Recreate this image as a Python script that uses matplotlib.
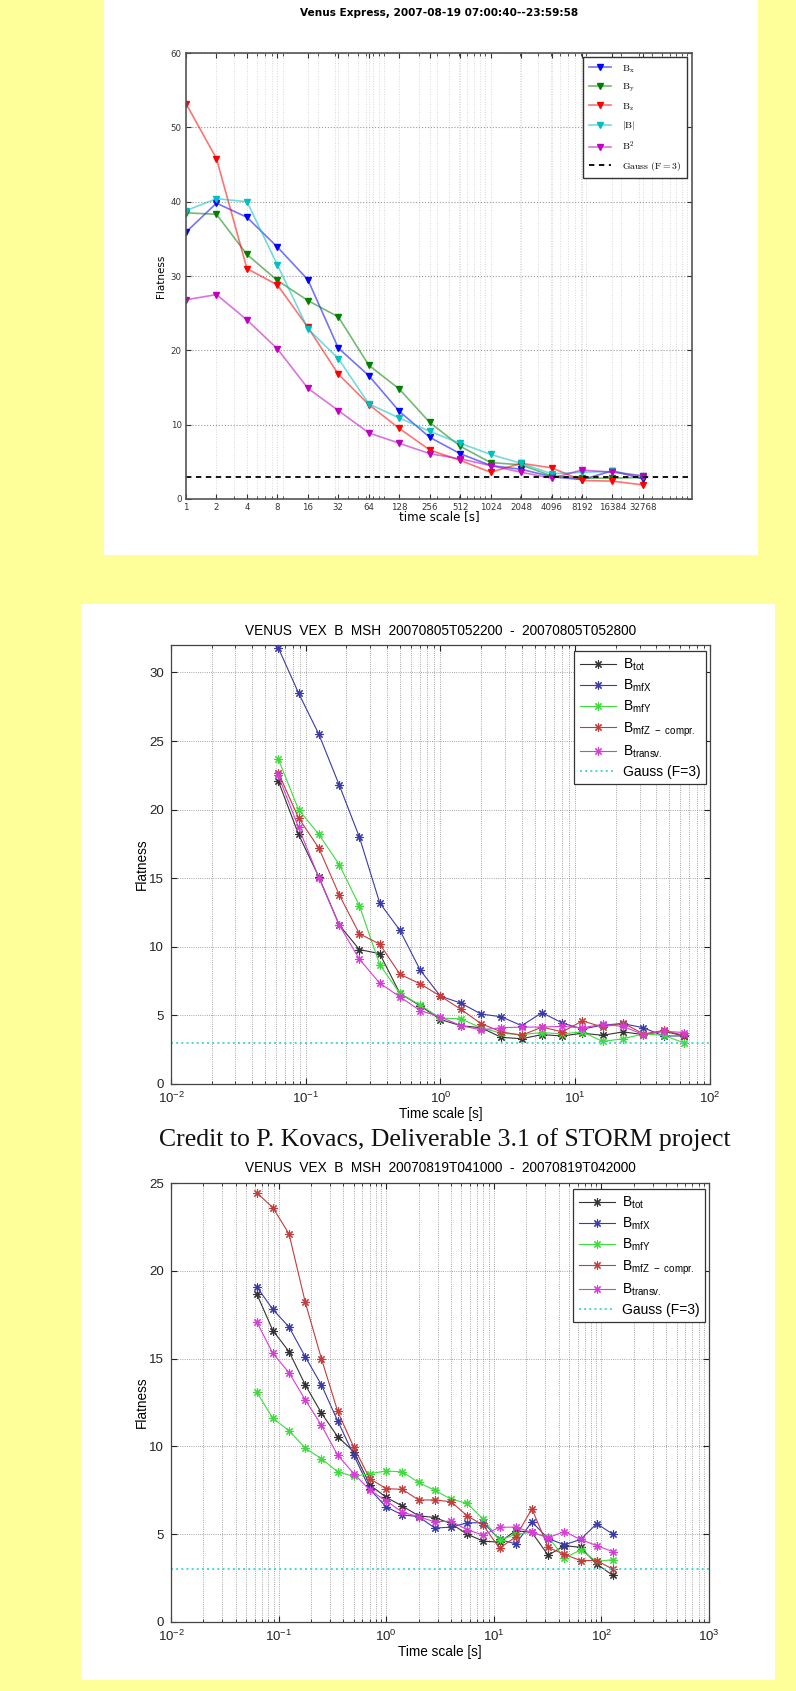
import matplotlib
matplotlib.use('Agg')
import matplotlib.pyplot as plt
from matplotlib.patches import Rectangle
from matplotlib.font_manager import FontProperties
from matplotlib.ticker import LogLocator, NullFormatter, FixedLocator

# ---- data: top panel (Venus Express, 2007-08-19) ----
top_scales = [1, 2, 4, 8, 16, 32, 64, 128, 256, 512, 1024, 2048, 4096, 8192, 16384, 32768]
top_bx = [35.9, 39.8, 37.9, 33.9, 29.5, 20.3, 16.6, 11.8, 8.3, 6.1, 4.5, 4.0, 3.0, 2.6, 3.8, 2.7]
top_by = [38.5, 38.3, 32.9, 29.4, 26.7, 24.5, 18.0, 14.8, 10.3, 7.1, 4.9, 4.6, 3.1, 2.8, 2.8, 2.9]
top_bz = [53.2, 45.8, 31.0, 28.8, 23.1, 16.8, 12.7, 9.5, 6.6, 5.2, 3.6, 4.8, 4.2, 2.5, 2.4, 1.9]
top_babs = [38.8, 40.4, 40.0, 31.5, 22.9, 18.9, 12.8, 10.9, 9.1, 7.5, 6.0, 4.8, 3.4, 3.6, 3.7, 3.1]
top_bsq = [26.8, 27.5, 24.1, 20.2, 14.9, 11.9, 8.9, 7.5, 6.1, 5.4, 4.5, 3.6, 2.8, 3.9, 3.6, 3.1]
top_labels = [r'$\mathrm{B_x}$', r'$\mathrm{B_y}$', r'$\mathrm{B_z}$', r'$\mathrm{|B|}$', r'$\mathrm{B^2}$']

# ---- data: middle panel (20070805T052200 - 20070805T052800) ----
mid_scales = [0.0625, 0.0884, 0.125, 0.177, 0.25, 0.354, 0.5, 0.707, 1, 1.414, 2,
              2.83, 4, 5.66, 8, 11.3, 16, 22.6, 32, 45.3, 64]
mid_btot = [22.1, 18.2, 15.1, 11.6, 9.8, 9.5, 6.6, 5.7, 4.7, 4.25, 4.1,
            3.4, 3.3, 3.6, 3.5, 3.7, 3.55, 3.8, 3.6, 3.85, 3.5]
mid_bx = [31.8, 28.5, 25.5, 21.8, 18.0, 13.2, 11.2, 8.3, 6.4, 5.9, 5.1,
          4.9, 4.25, 5.2, 4.45, 4.0, 4.3, 4.4, 4.1, 3.5, 3.5]
mid_by = [23.7, 20.0, 18.2, 16.0, 13.0, 8.7, 6.6, 5.75, 4.8, 4.75, 4.1,
          3.7, 3.6, 3.75, 3.65, 3.8, 3.1, 3.3, 3.65, 3.55, 3.0]
mid_bz = [22.7, 19.4, 17.2, 13.8, 10.95, 10.2, 8.0, 7.3, 6.4, 5.45, 4.4,
          3.8, 3.55, 4.15, 3.8, 4.6, 4.15, 4.45, 3.65, 3.9, 3.55]
mid_btr = [22.5, 18.7, 15.05, 11.6, 9.1, 7.35, 6.35, 5.35, 4.9, 4.25, 3.95,
           4.1, 4.15, 4.15, 4.2, 4.1, 4.35, 4.2, 3.6, 3.85, 3.75]

# ---- data: bottom panel (20070819T041000 - 20070819T042000) ----
bot_scales = [0.0625, 0.0884, 0.125, 0.177, 0.25, 0.354, 0.5, 0.707, 1, 1.414, 2,
              2.83, 4, 5.66, 8, 11.3, 16, 22.6, 32, 45.3, 64, 90.5, 128]
bot_btot = [18.7, 16.6, 15.4, 13.5, 11.9, 10.55, 9.7, 7.8, 7.1, 6.6, 6.05,
            5.95, 5.6, 5.0, 4.6, 4.55, 5.2, 5.1, 3.8, 4.35, 4.25, 3.3, 2.65]
bot_bx = [19.1, 17.8, 16.8, 15.1, 13.5, 11.45, 9.5, 7.55, 6.55, 6.1, 6.0,
          5.35, 5.4, 5.65, 5.65, 4.7, 4.45, 5.7, 4.75, 4.4, 4.7, 5.6, 5.0]
bot_by = [13.1, 11.6, 10.9, 9.9, 9.3, 8.55, 8.3, 8.45, 8.6, 8.55, 7.95,
          7.5, 7.0, 6.75, 5.85, 4.65, 5.0, 5.1, 4.85, 3.65, 4.1, 3.45, 3.55]
bot_bz = [24.45, 23.6, 22.1, 18.2, 15.0, 12.0, 9.95, 8.15, 7.6, 7.55, 6.95,
          6.95, 6.85, 6.05, 5.5, 4.2, 4.85, 6.45, 4.25, 3.85, 3.5, 3.5, 3.0]
bot_btr = [17.1, 15.3, 14.2, 12.65, 11.2, 9.5, 8.45, 7.5, 6.9, 6.25, 6.0,
           5.7, 5.75, 5.25, 4.95, 5.4, 5.4, 5.1, 4.8, 5.15, 4.7, 4.35, 4.0]

matlab_labels = [r'$\mathregular{B_{tot}}$', r'$\mathregular{B_{mfX}}$', r'$\mathregular{B_{mfY}}$',
                 r'$\mathregular{B_{mfZ\ -\ compr.}}$', r'$\mathregular{B_{transv.}}$']
matlab_colors = ['#333333', '#3a3aa8', '#3cdc3c', '#c43c3c', '#d83cd8']
gauss_level = 3

plt.rcParams['font.family'] = ['Liberation Sans', 'DejaVu Sans']

W, H = 796, 1691
fig = plt.figure(figsize=(W / 100, H / 100), dpi=100, facecolor='#ffff99')


def white_box(x0, y0, x1, y1):
    fig.add_artist(Rectangle((x0 / W, 1 - y1 / H), (x1 - x0) / W, (y1 - y0) / H,
                             transform=fig.transFigure, facecolor='white',
                             edgecolor='none', zorder=-5))


def px_axes(l, t, r, b):
    return fig.add_axes([l / W, 1 - b / H, (r - l) / W, (b - t) / H])


white_box(104, 0, 758, 555)
white_box(81, 604, 775, 1680)

# ================= top panel (python style) =================
dv = 'DejaVu Sans'
L, T, R, B = 186, 53, 692, 499
ax = px_axes(L, T, R, B)
for vals, c, lab in zip([top_bx, top_by, top_bz, top_babs, top_bsq], ['b', 'g', 'r', 'c', 'm'], top_labels):
    rgba = matplotlib.colors.to_rgba(c, 0.55)
    ax.plot(top_scales, vals, '-v', color=rgba, mfc=c, mec=c, ms=4.5, lw=1.2, label=lab)
ax.axhline(gauss_level, color='k', ls='--', lw=1.3, dashes=(3, 2.5), label=r'$\mathrm{Gauss\ (F=3)}$')
ax.set_xscale('log')
ax.set_xlim(1, 1e5)
ax.set_ylim(0, 60)
ax.xaxis.set_major_locator(FixedLocator(top_scales))
ax.set_xticklabels([str(s) for s in top_scales])
ax.xaxis.set_minor_locator(LogLocator(base=10, subs=range(2, 10)))
ax.xaxis.set_minor_formatter(NullFormatter())
ax.set_yticks(range(0, 61, 10))
ax.grid(True, which='major', axis='y', ls=':', color='#999999', lw=0.8)
ax.grid(True, which='both', axis='x', ls=':', color='#d8d8d8', lw=0.7)
ax.tick_params(which='both', direction='in', top=True, right=True, labelsize=6.2,
               colors='#333333', pad=3, labelfontfamily=dv)
ax.tick_params(which='minor', length=2)
for s in ax.spines.values():
    s.set_color('#555555')
    s.set_linewidth(1.2)
ax.set_title('Venus Express, 2007-08-19 07:00:40--23:59:58', fontsize=7.6, family=dv,
             fontweight='bold', y=(B - 13) / (B - T), va='center', pad=0)
ax.set_xlabel('time scale [s]', fontsize=8.6, family=dv)
ax.xaxis.set_label_coords(0.5, (B - 517) / (B - T))
ax.xaxis.label.set_va('center')
ax.set_ylabel('Flatness', fontsize=7.5, family=dv)
ax.yaxis.set_label_coords((161 - L) / (R - L), 0.5)
ax.yaxis.label.set_va('center')
leg = ax.legend(loc='upper right', bbox_to_anchor=(1 - 5 / (R - L), 1 - 4 / (B - T)),
                prop=FontProperties(size=7, math_fontfamily='cm'), fancybox=False,
                framealpha=1, borderaxespad=0, handlelength=2.3, labelspacing=0.7,
                borderpad=0.6, handletextpad=1.1)
leg.get_frame().set_edgecolor('#333333')
leg.get_frame().set_linewidth(1.0)

# ================= matlab style panels =================


def matlab_panel(box, xs, series, xmax, ymax, title, title_y, xlabel_y):
    L, T, R, B = box
    ax = px_axes(L, T, R, B)
    for vals, c, lab in zip(series, matlab_colors, matlab_labels):
        ax.plot(xs, vals, '-', color=c, lw=0.8, marker=(8, 2, 0), ms=6, mew=0.8, label=lab)
    ax.axhline(gauss_level, color='#44d8d8', ls=':', lw=1.4, label='Gauss (F=3)')
    ax.set_xscale('log')
    ax.set_xlim(1e-2, xmax)
    ax.set_ylim(0, ymax)
    ax.set_yticks(range(0, int(ymax) + 1, 5))
    ax.xaxis.set_minor_locator(LogLocator(base=10, subs=range(2, 10)))
    ax.xaxis.set_minor_formatter(NullFormatter())
    ax.grid(True, which='both', axis='x', ls=':', color='#888888', lw=0.6)
    ax.grid(True, which='major', axis='y', ls=':', color='#888888', lw=0.6)
    ax.tick_params(which='both', direction='in', top=True, right=True, labelsize=9.5,
                   colors='#222222', pad=5)
    ax.tick_params(which='major', length=4)
    ax.tick_params(which='minor', length=2.5)
    for s in ax.spines.values():
        s.set_color('#444444')
        s.set_linewidth(0.9)
    ax.set_title(title, fontsize=9.8, y=(B - title_y) / (B - T), va='center', pad=0)
    ax.set_xlabel('Time scale [s]', fontsize=9.8)
    ax.xaxis.set_label_coords(0.5, (B - xlabel_y) / (B - T))
    ax.xaxis.label.set_va('center')
    ax.set_ylabel('Flatness', fontsize=9.8)
    ax.yaxis.set_label_coords((142 - L) / (R - L), 0.5)
    ax.yaxis.label.set_va('center')
    leg = ax.legend(loc='upper right', bbox_to_anchor=(1 - 4 / (R - L), 1 - 6 / (B - T)),
                    fontsize=10, fancybox=False, framealpha=1, borderaxespad=0,
                    handlelength=2.6, labelspacing=0.35, borderpad=0.4, handletextpad=0.5)
    leg.get_frame().set_edgecolor('#333333')
    leg.get_frame().set_linewidth(0.9)
    return ax


matlab_panel((171, 645, 710, 1084), mid_scales, [mid_btot, mid_bx, mid_by, mid_bz, mid_btr],
             1e2, 32, 'VENUS  VEX  B  MSH  20070805T052200  -  20070805T052800', 631, 1114)
matlab_panel((171, 1183, 709, 1622), bot_scales, [bot_btot, bot_bx, bot_by, bot_bz, bot_btr],
             1e3, 25, 'VENUS  VEX  B  MSH  20070819T041000  -  20070819T042000', 1168, 1652)

fig.text(445 / W, 1 - 1140 / H, 'Credit to P. Kovacs, Deliverable 3.1 of STORM project',
         fontsize=18.5, family=['Liberation Serif', 'DejaVu Serif'], ha='center', va='center',
         color='#111111')

fig.savefig('out.png', dpi=100, facecolor=fig.get_facecolor())
